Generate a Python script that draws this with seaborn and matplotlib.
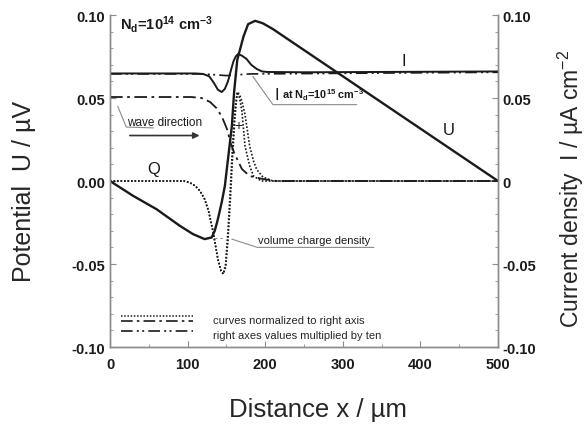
import numpy as np
import matplotlib
matplotlib.use("Agg")
import matplotlib.pyplot as plt
from matplotlib.legend_handler import HandlerBase
from matplotlib.lines import Line2D
import seaborn as sns

# ---------- Data ----------
# potential U (solid, left axis)
U_X = [0, 30, 60, 90, 107, 122, 131, 135, 139, 144, 148, 152, 157, 160, 164,
       168, 172, 178, 187, 197, 210, 500]
U_Y = [0, -0.009, -0.017, -0.027, -0.032, -0.035, -0.034, -0.030, -0.023, -0.0127,
       -0.003, 0.013, 0.033, 0.054, 0.073, 0.080, 0.087, 0.0945, 0.0965, 0.095,
       0.0915, 0]

# current density I (solid, N_d = 1e14)
I_X = [0, 110, 120, 128, 134, 139, 144, 148, 152, 156, 159, 162, 165, 170, 176,
       182, 189, 196, 202, 250, 500]
I_Y = [0.0648, 0.0648, 0.0645, 0.063, 0.059, 0.055, 0.0536, 0.0555, 0.060, 0.067,
       0.072, 0.075, 0.0765, 0.0755, 0.0735, 0.070, 0.0675, 0.066, 0.0657, 0.0655,
       0.066]

# current density I at N_d = 1e15 (dash-dot-dot)
I15_X = [0, 120, 135, 150, 165, 180, 500]
I15_Y = [0.0645, 0.0645, 0.064, 0.0635, 0.064, 0.0645, 0.0655]

# dash-dot curve (normalized to right axis)
DD_X = [0, 105, 118, 129, 137, 144, 151, 155, 160, 164, 170, 180, 197, 215, 500]
DD_Y = [0.0506, 0.0506, 0.050, 0.0476, 0.044, 0.039, 0.031, 0.0235, 0.017, 0.013,
        0.0072, 0.003, 0.0012, 0.0, 0.0]

# volume charge density Q (dotted), two traces
Q1_X = [0, 95, 103, 110, 116, 122, 127, 133, 139, 143, 146, 149, 152, 155, 158,
        161, 164, 167, 170, 174, 180, 185, 195, 500]
Q1_Y = [0, 0, -0.001, -0.003, -0.006, -0.011, -0.018, -0.031, -0.047, -0.054,
        -0.056, -0.050, -0.030, -0.005, 0.022, 0.043, 0.0536, 0.050, 0.042, 0.021,
        0.009, 0.003, 0.0, 0.0]
Q2_X = [0, 95, 103, 110, 116, 122, 127, 133, 139, 143, 146, 149, 152, 155, 158,
        161, 164, 167, 170, 174, 180, 185, 189, 197, 210, 500]
Q2_Y = [0, 0, -0.001, -0.003, -0.006, -0.011, -0.018, -0.031, -0.047, -0.054,
        -0.056, -0.052, -0.036, -0.012, 0.015, 0.038, 0.0536, 0.052, 0.048, 0.040,
        0.021, 0.012, 0.007, 0.0024, 0.0, 0.0]

Y_TICKS = [-0.10, -0.05, 0.0, 0.05, 0.10]
LEFT_LABELS = ["-0.10", "-0.05", "0.00", "0.05", "0.10"]
RIGHT_LABELS = ["-0.10", "-0.05", "0", "0.05", "0.10"]
X_TICKS = [0, 100, 200, 300, 400, 500]

# leader lines of the annotations (x in um, y in axis units)
LEAD_WAVE = ([10, 21, 56], [0.045, 0.0325, 0.032])
LEAD_I15 = ([184, 210, 318], [0.063, 0.046, 0.046])
LEAD_Q = ([157, 190, 340], [-0.035, -0.040, -0.040])

FONT = "Liberation Sans"
GRAY = "#8c8c8c"
INK = "#1a1a1a"

DOT = (0, (1.0, 1.1))
DASHDOT = (0, (7, 2.5, 1.5, 2.5))
DASHDOTDOT = (0, (7, 2.5, 1.2, 2, 1.2, 2.5))


class StackedHandler(HandlerBase):
    """Draw several line samples stacked in one legend row."""

    def create_artists(self, legend, orig_handle, xdescent, ydescent,
                       width, height, fontsize, trans):
        artists = []
        n = len(orig_handle)
        for i, h in enumerate(orig_handle):
            y = height * (0.95 - 0.7 * i / max(n - 1, 1)) - ydescent
            ln = Line2D([-xdescent, width - xdescent], [y, y])
            ln.update_from(h)
            ln.set_transform(trans)
            artists.append(ln)
        return artists


def main():
    sns.set_theme(style="ticks")
    plt.rcParams.update({
        "font.family": [FONT, "DejaVu Sans"],
        "mathtext.fontset": "custom",
        "mathtext.rm": FONT,
        "mathtext.it": FONT + ":italic",
        "mathtext.bf": FONT + ":bold",
        "mathtext.default": "regular",
        "axes.unicode_minus": False,
    })

    fig, ax = plt.subplots(figsize=(5.87, 4.27), dpi=100)
    fig.subplots_adjust(left=0.1874, right=0.8484, top=0.9625, bottom=0.185)
    ax2 = ax.twinx()

    sns.lineplot(x=U_X, y=U_Y, ax=ax, color=INK, linewidth=1.7)
    sns.lineplot(x=I_X, y=I_Y, ax=ax2, color=INK, linewidth=1.4)
    sns.lineplot(x=I15_X, y=I15_Y, ax=ax2, color=INK, linewidth=1.2,
                 linestyle=DASHDOTDOT)
    sns.lineplot(x=DD_X, y=DD_Y, ax=ax2, color=INK, linewidth=1.3,
                 linestyle=DASHDOT)
    sns.lineplot(x=Q1_X, y=Q1_Y, ax=ax2, color=INK, linewidth=1.2,
                 linestyle=DOT)
    sns.lineplot(x=Q2_X, y=Q2_Y, ax=ax2, color=INK, linewidth=1.2,
                 linestyle=DOT)

    for a in (ax, ax2):
        a.set_xlim(0, 500)
        a.set_ylim(-0.10, 0.10)
        a.set_yticks(Y_TICKS)
        a.set_yticks(np.arange(-0.10, 0.1001, 0.01), minor=True)
        a.tick_params(axis="both", which="both", direction="in", colors=GRAY,
                      labelcolor=INK, labelsize=10.5)
        a.tick_params(which="major", length=4, width=0.8)
        a.tick_params(which="minor", length=2.5, width=0.6)
        for s in a.spines.values():
            s.set_color(GRAY)
            s.set_linewidth(1.0)
        a.spines["top"].set_visible(False)

    ax.set_xticks(X_TICKS)
    ax.set_xticks(np.arange(0, 501, 50), minor=True)
    ax.set_yticklabels(LEFT_LABELS, fontweight="bold")
    ax.set_xticklabels([str(v) for v in X_TICKS], fontweight="bold")
    ax2.set_yticklabels(RIGHT_LABELS, fontweight="bold")
    ax.tick_params(axis="x", pad=7)

    ax.set_xlabel("Distance x / \u00b5m", fontsize=18.5)
    ax.set_ylabel("Potential  U / \u00b5V", fontsize=18)
    ax2.set_ylabel("Current density  I / \u00b5A cm$^{-2}$", fontsize=16.5)
    ax.xaxis.set_label_coords(0.536, -0.15)
    ax.yaxis.set_label_coords(-0.19, 0.473)
    ax2.yaxis.set_label_coords(1.148, 0.48)

    # annotations
    ax.text(13, 0.0946, "N$_d$=10$^{14}$ cm$^{-3}$", fontsize=10.5,
            fontweight="bold", va="center", color=INK)
    ax.text(22, 0.0355, "wave direction", fontsize=8.5, va="center", color=INK)
    ax.plot(*LEAD_WAVE, color=GRAY, linewidth=0.8)
    ax.annotate("", xy=(119, 0.0274), xytext=(22, 0.0274),
                arrowprops=dict(arrowstyle="-|>", color="#333333", lw=1.2,
                                mutation_scale=9))
    ax.plot(*LEAD_I15, color=GRAY, linewidth=0.8)
    ax.text(212, 0.0475, "I", fontsize=12, color=INK, va="bottom")
    ax.text(222, 0.0478, "at N$_d$=10$^{15}$ cm$^{-3}$", fontsize=7.8,
            color=INK, va="bottom", fontweight="bold")
    ax.plot(*LEAD_Q, color=GRAY, linewidth=0.8)
    ax.text(191, -0.0385, "volume charge density", fontsize=8, color=INK,
            va="bottom")
    ax.text(378, 0.0725, "I", fontsize=12, color=INK, ha="center", va="center")
    ax.text(436, 0.031, "U", fontsize=12, color=INK, ha="center", va="center")
    ax.text(56, 0.0075, "Q", fontsize=12, color=INK, ha="center", va="center")
    ax.text(165, 0.0335, "+", fontsize=10, color=INK, ha="center", va="center")
    ax.text(140, -0.034, "- -", fontsize=6, color=INK, ha="center",
            va="center")

    # legend
    h_dot = Line2D([], [], color=INK, linewidth=1.1, linestyle=DOT)
    h_dd = Line2D([], [], color=INK, linewidth=1.2, linestyle=DASHDOT)
    h_ddd = Line2D([], [], color=INK, linewidth=1.2, linestyle=DASHDOTDOT)
    ax.legend([(h_dot, h_dd), (h_ddd,)],
              ["curves normalized to right axis",
               "right axes values multiplied by ten"],
              handler_map={tuple: StackedHandler()},
              loc="lower left", bbox_to_anchor=(0.01, 0.0), frameon=False,
              fontsize=8, handlelength=6.5, handletextpad=1.8,
              labelspacing=0.45, borderaxespad=0.2)

    fig.savefig("out.png", dpi=100)


if __name__ == "__main__":
    main()
